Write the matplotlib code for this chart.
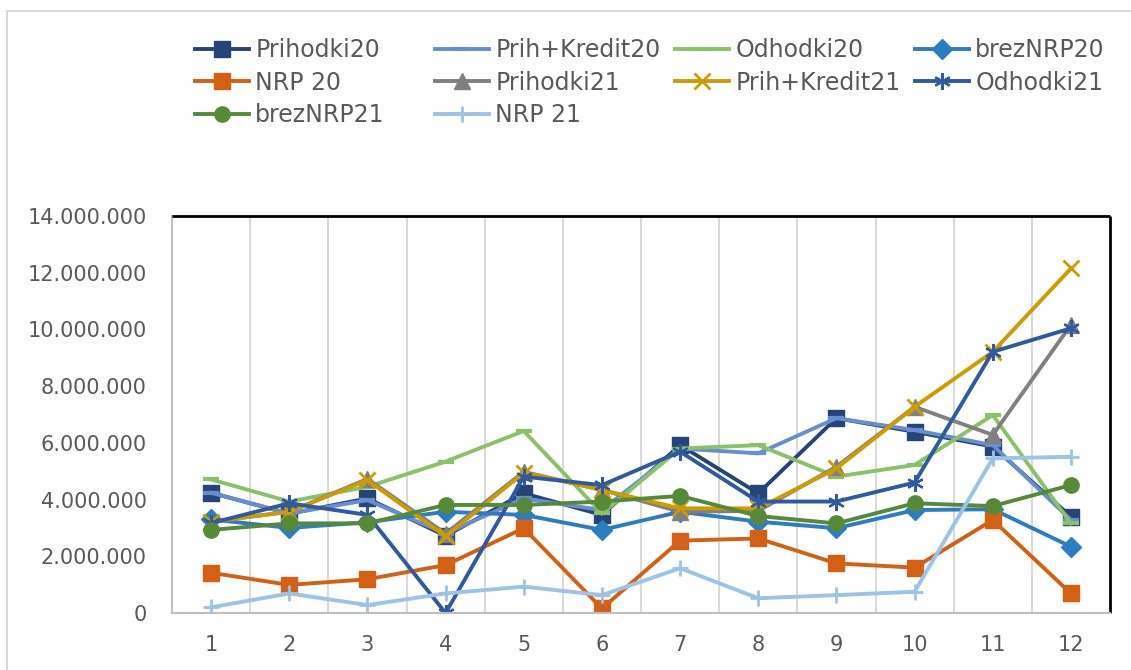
import matplotlib
matplotlib.use("Agg")
import matplotlib.pyplot as plt
from matplotlib.ticker import FuncFormatter, MultipleLocator
from matplotlib.patches import Rectangle

months = list(range(1, 13))

prihodki20 = [4240000, 3500000, 4040000, 2720000, 4220000, 3460000, 5920000, 4220000, 6870000, 6390000, 5870000, 3400000]
prih_kredit20 = [4240000, 3510000, 3980000, 2800000, 4040000, 3630000, 5800000, 5630000, 6870000, 6450000, 5920000, 3280000]
odhodki20 = [4710000, 3930000, 4450000, 5340000, 6420000, 3510000, 5800000, 5920000, 4810000, 5220000, 6980000, 3160000]
breznrp20 = [3300000, 3000000, 3200000, 3570000, 3460000, 2930000, 3570000, 3220000, 2990000, 3630000, 3660000, 2340000]
nrp20 = [1420000, 990000, 1190000, 1690000, 2990000, 160000, 2550000, 2630000, 1750000, 1600000, 3280000, 690000]
prihodki21 = [3220000, 3570000, 4730000, 2800000, 4980000, 4340000, 3570000, 3600000, 5160000, 7270000, 6280000, 10160000]
prih_kredit21 = [3220000, 3570000, 4690000, 2700000, 4950000, 4340000, 3690000, 3690000, 5100000, 7270000, 9210000, 12150000]
odhodki21 = [3170000, 3870000, 3460000, 0, 4810000, 4510000, 5690000, 3930000, 3930000, 4600000, 9210000, 10040000]
breznrp21 = [2930000, 3160000, 3160000, 3810000, 3810000, 3930000, 4130000, 3420000, 3160000, 3870000, 3770000, 4510000]
nrp21 = [200000, 690000, 280000, 690000, 930000, 630000, 1580000, 520000, 630000, 750000, 5450000, 5510000]

names = ["Prihodki20", "Prih+Kredit20", "Odhodki20", "brezNRP20", "NRP 20",
         "Prihodki21", "Prih+Kredit21", "Odhodki21", "brezNRP21", "NRP 21"]
series = [prihodki20, prih_kredit20, odhodki20, breznrp20, nrp20,
          prihodki21, prih_kredit21, odhodki21, breznrp21, nrp21]
colors = ["#264478", "#698ED0", "#8BC168", "#2E7CC2", "#D36015",
          "#808080", "#CC9C00", "#3159A0", "#578A38", "#9DC3E6"]
markers = ["s", "_", "_", "D", "s", "^", "x", (6, 2, 0), "o", "+"]
msizes = [12, 12, 12, 10, 12, 11, 12, 12, 11, 11]
mews = [1, 3, 3, 1, 1, 1, 2, 1.6, 1, 2]

fig = plt.figure(figsize=(11.31, 6.70), dpi=100)
ax = fig.add_axes([172 / 1131, 1 - 613 / 670, (1110 - 172) / 1131, (613 - 216) / 670])

# outer chart-area frame (cropped on right and bottom)
fig.patches.append(Rectangle((7 / 1131, -0.1), 1.2, 1 - 11 / 670 + 0.1, transform=fig.transFigure,
                             fill=False, edgecolor="#D9D9D9", linewidth=1.5))

lines = []
for name, vals, c, m, ms, mew in zip(names, series, colors, markers, msizes, mews):
    ln, = ax.plot(months, vals, color=c, lw=2.8, marker=m, markersize=ms,
                  markerfacecolor=c, markeredgecolor=c, markeredgewidth=mew,
                  label=name, solid_joinstyle="miter")
    lines.append(ln)

ax.set_xlim(0.5, 12.5)
ax.set_ylim(0, 14000000)
ax.yaxis.set_major_locator(MultipleLocator(2000000))
ax.yaxis.set_major_formatter(FuncFormatter(lambda v, p: f"{int(v):,}".replace(",", ".")))
ax.set_xticks(months)
ax.set_xticks([m + 0.5 for m in months[:-1]], minor=True)
ax.grid(which="minor", axis="x", color="#D9D9D9", lw=1.4)
ax.tick_params(which="both", length=0)
ax.tick_params(axis="x", pad=16, labelsize=15, labelcolor="#595959")
ax.tick_params(axis="y", pad=18, labelsize=15, labelcolor="#595959")

for s in ["left", "bottom"]:
    ax.spines[s].set_color("#BFBFBF")
    ax.spines[s].set_linewidth(1.5)
for s in ["top", "right"]:
    ax.spines[s].set_color("black")
    ax.spines[s].set_linewidth(2)
    ax.spines[s].set_capstyle("butt")

# legend: 4 equal-width columns, filled row-wise
col_x = [195, 435, 675, 915]
for k in range(4):
    hs = lines[k::4]
    leg = fig.legend(handles=hs, labels=[h.get_label() for h in hs], loc="upper left",
                     bbox_to_anchor=(col_x[k] / 1131, 1 - 38 / 670), frameon=False,
                     fontsize=17, handlelength=2.3, handletextpad=0.25, labelspacing=0.36,
                     borderpad=0, borderaxespad=0)
    for t in leg.get_texts():
        t.set_color("#595959")

fig.savefig("out.png", dpi=100)
